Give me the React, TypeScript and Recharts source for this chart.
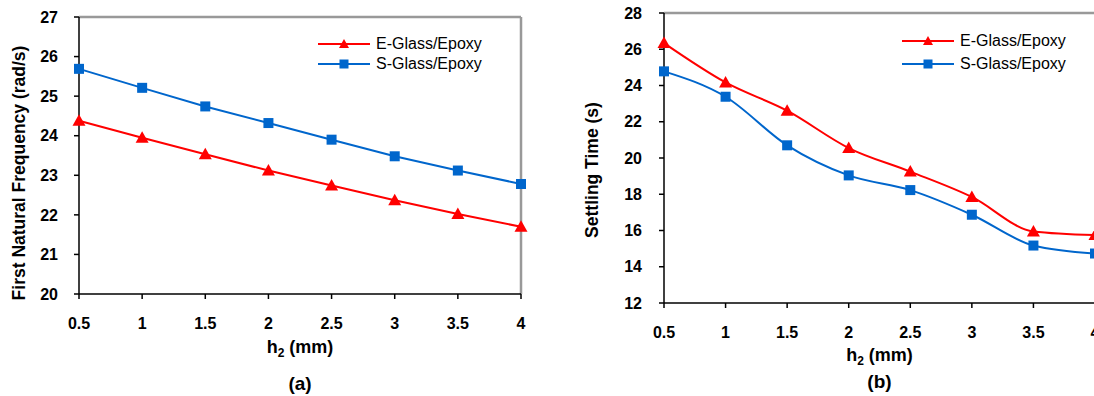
import React from "react";
import { LineChart, Line, XAxis, YAxis, ReferenceLine, Legend } from "recharts";

// h2 thickness (mm) shared by both panels
const H2_MM = [0.5, 1, 1.5, 2, 2.5, 3, 3.5, 4];

// (a) first natural frequency (rad/s)
const FREQ_E_GLASS = [24.38, 23.95, 23.53, 23.12, 22.74, 22.37, 22.02, 21.7];
const FREQ_S_GLASS = [25.69, 25.21, 24.74, 24.32, 23.9, 23.48, 23.12, 22.78];
const FREQ_TICKS = [20, 21, 22, 23, 24, 25, 26, 27];

// (b) settling time (s)
const SETTLE_E_GLASS = [26.34, 24.17, 22.61, 20.55, 19.25, 17.85, 15.95, 15.75];
const SETTLE_S_GLASS = [24.78, 23.38, 20.7, 19.04, 18.23, 16.87, 15.17, 14.73];
const SETTLE_TICKS = [12, 14, 16, 18, 20, 22, 24, 26, 28];

const SERIES_NAMES = ["E-Glass/Epoxy", "S-Glass/Epoxy"];

const RED = "#FF0000";
const BLUE = "#0066CC";
const FONT = "Arial, 'Liberation Sans', Helvetica, sans-serif";

const freqData = H2_MM.map((h, i) => ({ h2: h, e: FREQ_E_GLASS[i], s: FREQ_S_GLASS[i] }));
const settleData = H2_MM.map((h, i) => ({ h2: h, e: SETTLE_E_GLASS[i], s: SETTLE_S_GLASS[i] }));

const tickStyle = { fill: "#000", fontSize: 16, fontWeight: "bold", fontFamily: FONT };

const TriangleDot = (props: any) => {
  const { cx, cy } = props;
  if (cx == null || cy == null) return <g />;
  return <path d={`M${cx},${cy - 6.5} L${cx + 6.5},${cy + 5} L${cx - 6.5},${cy + 5} Z`} fill={RED} />;
};

const SquareDot = (props: any) => {
  const { cx, cy } = props;
  if (cx == null || cy == null) return <g />;
  return <rect x={cx - 5} y={cy - 5} width={10} height={10} fill={BLUE} />;
};

// legend drawn like the Excel one: line with marker in the middle
const LegendBox = ({ rowHeight }: { rowHeight: number }) => (
  <div style={{ fontFamily: FONT, fontSize: 16, color: "#000" }}>
    {SERIES_NAMES.map((name, i) => {
      const color = i === 0 ? RED : BLUE;
      return (
        <div key={name} style={{ display: "flex", alignItems: "center", height: rowHeight }}>
          <svg width={52} height={14} style={{ display: "block" }}>
            <line x1={0} y1={7} x2={52} y2={7} stroke={color} strokeWidth={2} />
            {i === 0 ? (
              <path d="M26,2 L31,11 L21,11 Z" fill={RED} />
            ) : (
              <rect x={21.5} y={2.5} width={9} height={9} fill={BLUE} />
            )}
          </svg>
          <span style={{ marginLeft: 6, lineHeight: 1 }}>{name}</span>
        </div>
      );
    })}
  </div>
);

const XTitle = ({ viewBox, caption, titleDy, captionDy }: any) => {
  const { x = 0, y = 0, width = 0 } = viewBox || {};
  const cx = x + width / 2;
  return (
    <g fontFamily={FONT} fontWeight="bold" fill="#000">
      <text x={cx} y={y + titleDy} textAnchor="middle" fontSize={18}>
        h<tspan fontSize={12} dy={4}>2</tspan>
        <tspan dy={-4}> (mm)</tspan>
      </text>
      <text x={cx} y={y + captionDy} textAnchor="middle" fontSize={19}>
        {caption}
      </text>
    </g>
  );
};

const YTitle = ({ text, cx, cy }: any) => (
  <text
    x={cx}
    y={cy}
    transform={`rotate(-90, ${cx}, ${cy})`}
    textAnchor="middle"
    dominantBaseline="central"
    fontFamily={FONT}
    fontWeight="bold"
    fontSize={17.5}
    fill="#000"
  >
    {text}
  </text>
);

export default function App() {
  return (
    <div
      style={{
        position: "absolute",
        left: 0,
        top: 0,
        width: 1094,
        height: 396,
        overflow: "hidden",
        background: "#fff",
      }}
    >
      {/* (a) */}
      <div style={{ position: "absolute", left: 0, top: 0 }}>
        <LineChart width={547} height={396} data={freqData} margin={{ top: 17, right: 26, left: 0, bottom: 0 }}>
          <XAxis
            dataKey="h2"
            type="number"
            domain={[0.5, 4]}
            ticks={H2_MM}
            interval={0}
            height={102}
            tick={tickStyle}
            tickSize={5}
            tickMargin={19}
            stroke="#000"
            strokeWidth={1.5}
            label={(p: any) => <XTitle {...p} caption="(a)" titleDy={59} captionDy={96} />}
          />
          <YAxis
            type="number"
            domain={[20, 27]}
            ticks={FREQ_TICKS}
            interval={0}
            width={79}
            tick={tickStyle}
            tickSize={5}
            tickMargin={16}
            stroke="#000"
            strokeWidth={1.5}
            label={() => <YTitle text="First Natural Frequency (rad/s)" cx={19} cy={173} />}
          />
          <ReferenceLine y={27} stroke="#999" strokeWidth={2.5} />
          <ReferenceLine x={4} stroke="#999" strokeWidth={2.5} />
          <Legend
            verticalAlign="middle"
            align="center"
            wrapperStyle={{ top: 34, left: 318, width: 220 }}
            content={() => <LegendBox rowHeight={20} />}
          />
          <Line
            name={SERIES_NAMES[0]}
            dataKey="e"
            type="linear"
            stroke={RED}
            strokeWidth={2}
            dot={TriangleDot}
            isAnimationActive={false}
          />
          <Line
            name={SERIES_NAMES[1]}
            dataKey="s"
            type="linear"
            stroke={BLUE}
            strokeWidth={2}
            dot={SquareDot}
            isAnimationActive={false}
          />
        </LineChart>
      </div>

      {/* (b) */}
      <div style={{ position: "absolute", left: 547, top: 0 }}>
        <LineChart width={560} height={396} data={settleData} margin={{ top: 13, right: 12, left: 0, bottom: 0 }}>
          <XAxis
            dataKey="h2"
            type="number"
            domain={[0.5, 4]}
            ticks={H2_MM}
            interval={0}
            height={93}
            tick={tickStyle}
            tickSize={5}
            tickMargin={19}
            stroke="#000"
            strokeWidth={1.5}
            label={(p: any) => <XTitle {...p} caption="(b)" titleDy={58} captionDy={85} />}
          />
          <YAxis
            type="number"
            domain={[12, 28]}
            ticks={SETTLE_TICKS}
            interval={0}
            width={117}
            tick={tickStyle}
            tickSize={5}
            tickMargin={17}
            stroke="#000"
            strokeWidth={1.5}
            label={() => <YTitle text="Settling Time (s)" cx={45} cy={170} />}
          />
          <ReferenceLine y={28} stroke="#999" strokeWidth={2.5} />
          <Legend
            verticalAlign="middle"
            align="center"
            wrapperStyle={{ top: 29, left: 355, width: 220 }}
            content={() => <LegendBox rowHeight={23} />}
          />
          <Line
            name={SERIES_NAMES[0]}
            dataKey="e"
            type="monotone"
            stroke={RED}
            strokeWidth={2}
            dot={TriangleDot}
            isAnimationActive={false}
          />
          <Line
            name={SERIES_NAMES[1]}
            dataKey="s"
            type="monotone"
            stroke={BLUE}
            strokeWidth={2}
            dot={SquareDot}
            isAnimationActive={false}
          />
        </LineChart>
      </div>
    </div>
  );
}
